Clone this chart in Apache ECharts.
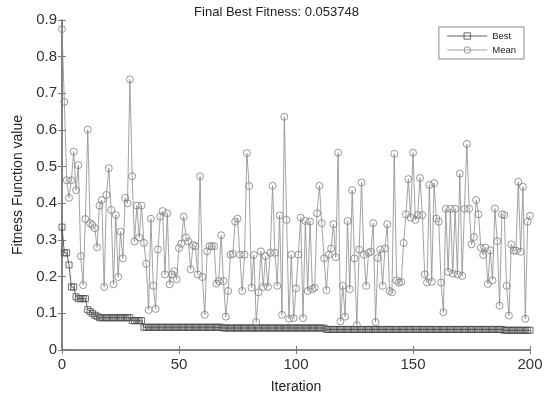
<!DOCTYPE html>
<html>
<head>
<meta charset="utf-8">
<script src="https://cdn.jsdelivr.net/npm/echarts@6/dist/echarts.min.js"></script>
<style>
  html, body { margin: 0; padding: 0; background: #fff; }
  #chart { width: 553px; height: 399px; }
</style>
</head>
<body>
<div id="chart"></div>
<script>
var titleText = 'Final Best Fitness: 0.053748';
var xTicks = [0, 50, 100, 150, 200];

// best fitness per iteration (0..200)
var best = [
  0.335, 0.265, 0.265, 0.232, 0.172, 0.172, 0.145, 0.140, 0.140, 0.140,
  0.140, 0.110, 0.105, 0.100, 0.095, 0.092, 0.088, 0.088, 0.088, 0.088,
  0.088, 0.088, 0.088, 0.088, 0.088, 0.088, 0.088, 0.088, 0.088, 0.088,
  0.080, 0.080, 0.080, 0.080, 0.080, 0.062, 0.062, 0.062, 0.062, 0.062,
  0.062, 0.062, 0.062, 0.062, 0.062, 0.062, 0.062, 0.062, 0.062, 0.062,
  0.062, 0.062, 0.062, 0.062, 0.062, 0.062, 0.062, 0.062, 0.062, 0.062,
  0.062, 0.062, 0.062, 0.062, 0.062, 0.062, 0.062, 0.062, 0.062, 0.060,
  0.060, 0.060, 0.060, 0.060, 0.060, 0.060, 0.060, 0.060, 0.060, 0.060,
  0.060, 0.060, 0.060, 0.060, 0.060, 0.060, 0.060, 0.060, 0.060, 0.060,
  0.060, 0.060, 0.060, 0.060, 0.060, 0.060, 0.060, 0.060, 0.060, 0.060,
  0.060, 0.060, 0.060, 0.060, 0.060, 0.060, 0.060, 0.060, 0.060, 0.060,
  0.060, 0.060, 0.060, 0.056, 0.056, 0.056, 0.056, 0.056, 0.056, 0.056,
  0.056, 0.056, 0.056, 0.056, 0.056, 0.056, 0.056, 0.056, 0.056, 0.056,
  0.056, 0.056, 0.056, 0.056, 0.056, 0.056, 0.056, 0.056, 0.056, 0.056,
  0.056, 0.056, 0.056, 0.056, 0.056, 0.056, 0.056, 0.056, 0.056, 0.056,
  0.056, 0.056, 0.056, 0.056, 0.056, 0.056, 0.056, 0.056, 0.056, 0.056,
  0.056, 0.056, 0.056, 0.056, 0.056, 0.056, 0.056, 0.056, 0.056, 0.056,
  0.056, 0.056, 0.056, 0.056, 0.056, 0.056, 0.056, 0.056, 0.056, 0.056,
  0.056, 0.056, 0.056, 0.056, 0.056, 0.056, 0.056, 0.056, 0.056, 0.053748,
  0.053748, 0.053748, 0.053748, 0.053748, 0.053748, 0.053748, 0.053748, 0.053748, 0.053748, 0.053748,
  0.053748
];

// mean fitness per iteration (0..200)
var mean = [
  0.875, 0.677, 0.463, 0.415, 0.463, 0.541, 0.436, 0.504, 0.256, 0.177,
  0.357, 0.601, 0.346, 0.341, 0.332, 0.280, 0.394, 0.409, 0.172, 0.423,
  0.496, 0.382, 0.179, 0.368, 0.199, 0.323, 0.250, 0.415, 0.400, 0.738,
  0.474, 0.296, 0.394, 0.307, 0.394, 0.292, 0.235, 0.109, 0.358, 0.175,
  0.112, 0.274, 0.364, 0.379, 0.206, 0.373, 0.179, 0.206, 0.215, 0.193,
  0.278, 0.290, 0.364, 0.307, 0.296, 0.220, 0.286, 0.283, 0.206, 0.474,
  0.199, 0.096, 0.269, 0.283, 0.283, 0.283, 0.181, 0.188, 0.313, 0.188,
  0.091, 0.161, 0.260, 0.262, 0.350, 0.358, 0.260, 0.161, 0.260, 0.537,
  0.447, 0.170, 0.259, 0.076, 0.157, 0.269, 0.172, 0.256, 0.172, 0.265,
  0.448, 0.265, 0.175, 0.367, 0.096, 0.636, 0.355, 0.085, 0.260, 0.087,
  0.168, 0.260, 0.361, 0.087, 0.352, 0.161, 0.350, 0.166, 0.170, 0.373,
  0.448, 0.346, 0.250, 0.163, 0.260, 0.277, 0.343, 0.253, 0.538, 0.078,
  0.175, 0.091, 0.352, 0.166, 0.436, 0.250, 0.068, 0.274, 0.457, 0.260,
  0.175, 0.265, 0.268, 0.346, 0.076, 0.251, 0.274, 0.175, 0.277, 0.343,
  0.161, 0.157, 0.535, 0.190, 0.184, 0.186, 0.292, 0.370, 0.466, 0.361,
  0.538, 0.355, 0.368, 0.469, 0.368, 0.206, 0.184, 0.450, 0.186, 0.455,
  0.358, 0.350, 0.184, 0.103, 0.385, 0.213, 0.385, 0.208, 0.385, 0.206,
  0.481, 0.202, 0.385, 0.562, 0.385, 0.288, 0.308, 0.409, 0.370, 0.279,
  0.259, 0.279, 0.180, 0.272, 0.190, 0.386, 0.297, 0.121, 0.370, 0.368,
  0.175, 0.094, 0.288, 0.271, 0.271, 0.459, 0.268, 0.445, 0.085, 0.350,
  0.366
];

var bestData = [];
var meanData = [];
for (var i = 0; i < best.length; i++) {
  bestData.push([i, best[i]]);
  meanData.push([i, mean[i]]);
}

var axisGray = '#7a7a7a';
var labelColor = '#333';
var font = 'Liberation Sans, Arial, sans-serif';

var myChart = echarts.init(document.getElementById('chart'));

var option = {
  animation: false,
  backgroundColor: '#fff',
  title: {
    text: titleText,
    left: 'center',
    top: 1,
    textStyle: { fontFamily: font, fontSize: 13, fontWeight: 'normal', color: '#222' }
  },
  legend: {
    orient: 'vertical',
    right: 29,
    top: 27,
    padding: [4, 8, 4, 8],
    itemGap: 4,
    itemWidth: 40,
    itemHeight: 8,
    backgroundColor: '#fff',
    borderColor: '#888',
    borderWidth: 1,
    lineStyle: { width: 0.8 },
    itemStyle: { borderWidth: 0.8 },
    textStyle: { fontFamily: font, fontSize: 9.5, color: '#222' },
    data: ['Best', 'Mean']
  },
  grid: { left: 62, right: 23, top: 20, bottom: 46 },
  xAxis: [{
    type: 'value',
    min: 0, max: 200, interval: 50,
    name: 'Iteration',
    nameLocation: 'middle',
    nameGap: 30,
    nameTextStyle: { fontFamily: font, fontSize: 14, color: '#222' },
    axisLine: { lineStyle: { color: axisGray, width: 1.5 } },
    axisTick: { inside: true, length: 4, lineStyle: { color: axisGray } },
    axisLabel: { fontFamily: font, fontSize: 15, color: labelColor, margin: 7,
      formatter: function (v) { return xTicks.indexOf(v) >= 0 ? String(v) : ''; } },
    splitLine: { show: false }
  }, {
    type: 'value',
    position: 'top',
    min: 0, max: 200, interval: 50,
    axisLine: { lineStyle: { color: axisGray, width: 1.5 } },
    axisTick: { inside: true, length: 4, lineStyle: { color: axisGray } },
    axisLabel: { show: false },
    splitLine: { show: false }
  }],
  yAxis: [{
    type: 'value',
    min: 0, max: 0.9, interval: 0.1,
    name: 'Fitness Function value',
    nameLocation: 'middle',
    nameGap: 36,
    nameTextStyle: { fontFamily: font, fontSize: 14, color: '#222' },
    axisLine: { show: true, lineStyle: { color: axisGray, width: 1.5 } },
    axisTick: { show: true, inside: true, length: 4, lineStyle: { color: axisGray } },
    axisLabel: { fontFamily: font, fontSize: 15, color: labelColor, margin: 5,
      formatter: function (v) { return v === 0 ? '0' : v.toFixed(1); } },
    splitLine: { show: false }
  }, {
    type: 'value',
    position: 'right',
    min: 0, max: 0.9, interval: 0.1,
    axisLine: { show: true, lineStyle: { color: axisGray, width: 1.5 } },
    axisTick: { show: true, inside: true, length: 4, lineStyle: { color: axisGray } },
    axisLabel: { show: false },
    splitLine: { show: false }
  }],
  series: [{
    name: 'Best',
    type: 'line',
    data: bestData,
    symbol: 'rect',
    symbolSize: 6,
    showAllSymbol: true,
    lineStyle: { color: '#3a3a3a', width: 0.8 },
    itemStyle: { color: 'rgba(255,255,255,0)', borderColor: '#4a4a4a', borderWidth: 0.8 }
  }, {
    name: 'Mean',
    type: 'line',
    data: meanData,
    symbol: 'circle',
    symbolSize: 7,
    showAllSymbol: true,
    lineStyle: { color: '#8c8c8c', width: 0.8 },
    itemStyle: { color: 'rgba(255,255,255,0)', borderColor: '#7e7e7e', borderWidth: 0.8 }
  }]
};

myChart.setOption(option);
</script>
</body>
</html>
